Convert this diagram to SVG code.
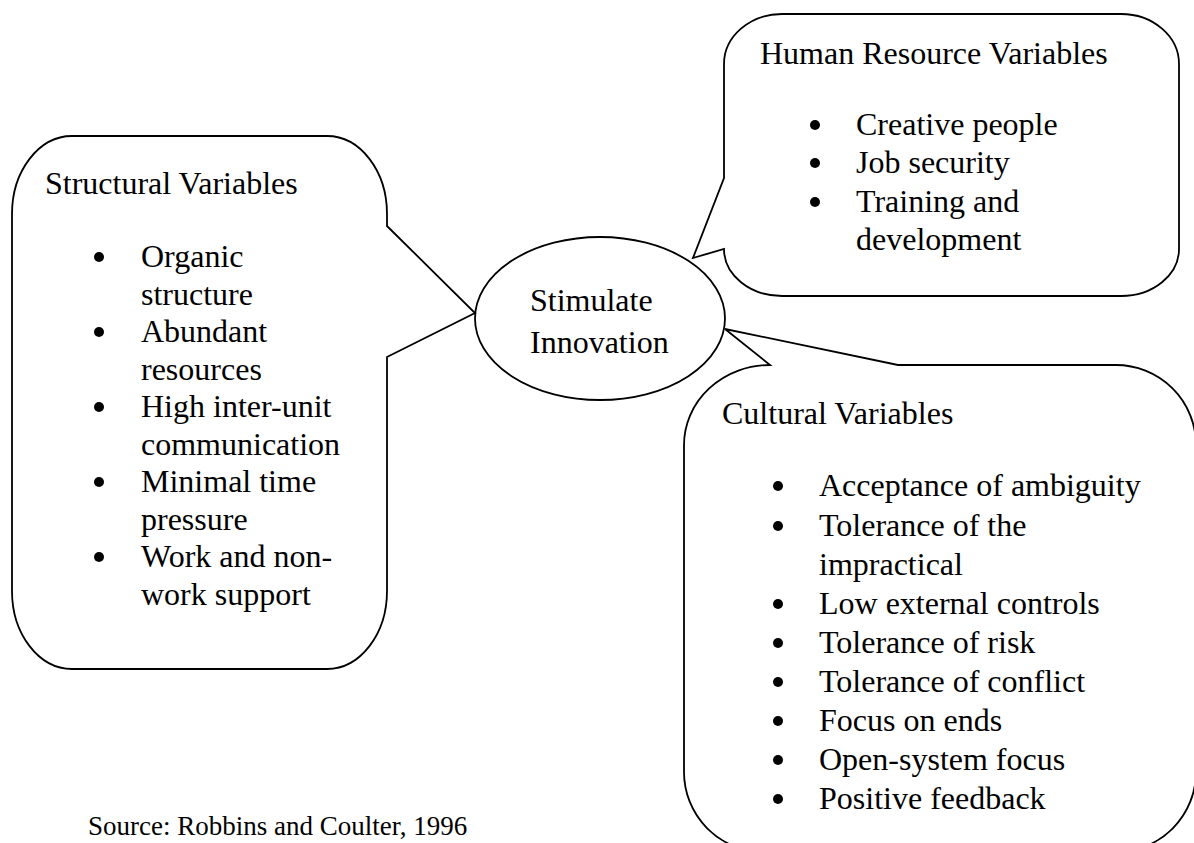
<svg xmlns="http://www.w3.org/2000/svg" width="1194" height="843" viewBox="0 0 1194 843">
  <style>
    .shape { fill: #ffffff; stroke: #000000; stroke-width: 1.8; stroke-linejoin: miter; }
    .txt { font-family: "Liberation Serif", "Times New Roman", serif; font-size: 32px; fill: #000000; }
    .src { font-family: "Liberation Serif", "Times New Roman", serif; font-size: 27px; fill: #000000; }
    .dot { fill: #000000; }
  </style>
  <rect width="1194" height="843" fill="#ffffff"/>

  <!-- central ellipse -->
  <g id="stimulate-innovation">
    <ellipse class="shape" cx="600" cy="318.5" rx="125" ry="81.5"/>
    <text class="txt" x="530" y="311">Stimulate</text>
    <text class="txt" x="530" y="353">Innovation</text>
  </g>

  <!-- left callout -->
  <g id="structural-variables">
    <path class="shape" d="M 72,136 H 327 A 60,78 0 0 1 387,214 V 226 L 475,313 L 387,357 V 591 A 60,78 0 0 1 327,669 H 72 A 60,78 0 0 1 12,591 V 214 A 60,78 0 0 1 72,136 Z"/>
    <text class="txt" x="45" y="194">Structural Variables</text>
    <circle class="dot" cx="99" cy="257" r="5"/>
    <text class="txt" x="141" y="267">Organic</text>
    <text class="txt" x="141" y="304.5">structure</text>
    <circle class="dot" cx="99" cy="332" r="5"/>
    <text class="txt" x="141" y="342">Abundant</text>
    <text class="txt" x="141" y="379.5">resources</text>
    <circle class="dot" cx="99" cy="407" r="5"/>
    <text class="txt" x="141" y="417">High inter-unit</text>
    <text class="txt" x="141" y="454.5">communication</text>
    <circle class="dot" cx="99" cy="482" r="5"/>
    <text class="txt" x="141" y="492">Minimal time</text>
    <text class="txt" x="141" y="529.5">pressure</text>
    <circle class="dot" cx="99" cy="557" r="5"/>
    <text class="txt" x="141" y="567">Work and non-</text>
    <text class="txt" x="141" y="604.5">work support</text>
  </g>

  <!-- upper right callout -->
  <g id="human-resource-variables">
    <path class="shape" d="M 782,14 H 1121 A 58,50 0 0 1 1179,64 V 249 A 58,47 0 0 1 1121,296 H 782 A 58,47 0 0 1 724,249 L 693,258 L 724,178 V 64 A 58,50 0 0 1 782,14 Z"/>
    <text class="txt" x="760" y="64">Human Resource Variables</text>
    <circle class="dot" cx="815" cy="125" r="5"/>
    <text class="txt" x="856" y="135">Creative people</text>
    <circle class="dot" cx="815" cy="163" r="5"/>
    <text class="txt" x="856" y="173">Job security</text>
    <circle class="dot" cx="815" cy="202" r="5"/>
    <text class="txt" x="856" y="212">Training and</text>
    <text class="txt" x="856" y="250">development</text>
  </g>

  <!-- lower right callout -->
  <g id="cultural-variables">
    <path class="shape" d="M 770,365 L 725,329 L 898,365 H 1116 A 80,80 0 0 1 1196,445 V 772 A 80,80 0 0 1 1116,852 H 764 A 80,80 0 0 1 684,772 V 445 A 86,80 0 0 1 770,365 Z"/>
    <text class="txt" x="722" y="424">Cultural Variables</text>
    <circle class="dot" cx="778" cy="486" r="5"/>
    <text class="txt" x="819" y="496">Acceptance of ambiguity</text>
    <circle class="dot" cx="778" cy="526" r="5"/>
    <text class="txt" x="819" y="536">Tolerance of the</text>
    <text class="txt" x="819" y="575">impractical</text>
    <circle class="dot" cx="778" cy="604" r="5"/>
    <text class="txt" x="819" y="614">Low external controls</text>
    <circle class="dot" cx="778" cy="643" r="5"/>
    <text class="txt" x="819" y="653">Tolerance of risk</text>
    <circle class="dot" cx="778" cy="682" r="5"/>
    <text class="txt" x="819" y="692">Tolerance of conflict</text>
    <circle class="dot" cx="778" cy="721" r="5"/>
    <text class="txt" x="819" y="731">Focus on ends</text>
    <circle class="dot" cx="778" cy="760" r="5"/>
    <text class="txt" x="819" y="770">Open-system focus</text>
    <circle class="dot" cx="778" cy="799" r="5"/>
    <text class="txt" x="819" y="809">Positive feedback</text>
  </g>

  <!-- citation -->
  <text class="src" x="88" y="835">Source: Robbins and Coulter, 1996</text>
</svg>
